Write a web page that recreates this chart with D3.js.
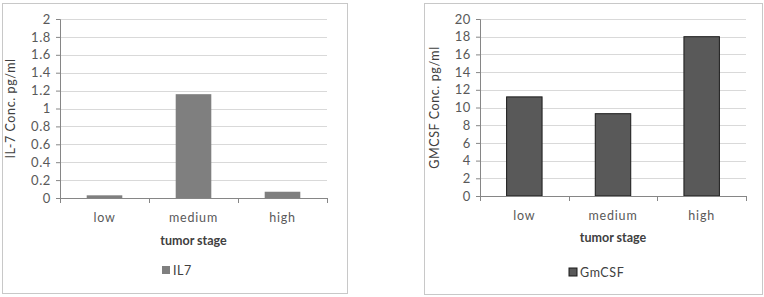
<!DOCTYPE html>
<html>
<head>
<meta charset="utf-8">
<script src="https://cdn.jsdelivr.net/npm/d3@7"></script>
<style>
  body { margin: 0; background: #fff; }
  svg text { font-family: Lato, "Open Sans", sans-serif; }
</style>
</head>
<body>
<div id="chart"></div>
<script>
const stages = ["low", "medium", "high"];
const il7Values = [0.03, 1.16, 0.07];
const gmcsfValues = [11.2, 9.3, 18.0];
const il7Ticks = [0, 0.2, 0.4, 0.6, 0.8, 1, 1.2, 1.4, 1.6, 1.8, 2];
const gmcsfTicks = [0, 2, 4, 6, 8, 10, 12, 14, 16, 18, 20];

const svg = d3.select("#chart")
    .append("svg")
    .attr("width", 764)
    .attr("height", 297);

function drawPanel(opts) {
    // outer chart frame
    svg.append("rect")
        .attr("x", opts.box[0] + 0.5)
        .attr("y", opts.box[1] + 0.5)
        .attr("width", opts.box[2])
        .attr("height", opts.box[3])
        .style("fill", "#fff")
        .style("stroke", "#c8c8c8");

    let g = svg.append("g")
        .attr("transform", `translate(${opts.left}, ${opts.top})`);

    let x = d3.scaleBand()
        .domain(stages)
        .range([0, opts.width])
        .paddingInner(0.6)
        .paddingOuter(0.3);

    let y = d3.scaleLinear()
        .domain([0, d3.max(opts.ticks)])
        .range([opts.height, 0]);

    // gridlines
    g.selectAll(".grid")
        .data(opts.ticks.slice(1))
        .enter()
        .append("line")
        .attr("x1", 0)
        .attr("x2", opts.width)
        .attr("y1", d => Math.round(y(d)) + 0.5)
        .attr("y2", d => Math.round(y(d)) + 0.5)
        .style("stroke", "#d9d9d9");

    let yAxis = d3.axisLeft(y)
        .tickValues(opts.ticks)
        .tickSize(4)
        .tickPadding(5)
        .tickFormat(d => d);

    let yg = g.append("g").call(yAxis);
    yg.select(".domain").style("stroke", "#868686");
    yg.selectAll(".tick line").style("stroke", "#868686");
    yg.selectAll(".tick text")
        .style("font-size", "13px")
        .style("letter-spacing", "0.6px")
        .style("fill", "#595959");

    // bars
    g.selectAll(".bar")
        .data(opts.values)
        .enter()
        .append("rect")
        .attr("x", (d, i) => x(stages[i]))
        .attr("y", d => y(d))
        .attr("width", x.bandwidth())
        .attr("height", d => opts.height - y(d))
        .style("fill", opts.color)
        .style("stroke", opts.stroke)
        .style("stroke-width", opts.stroke == "none" ? 0 : 1);

    // x axis with boundary ticks
    let xg = g.append("g")
        .attr("transform", `translate(0, ${opts.height})`);
    xg.append("line")
        .attr("x1", 0)
        .attr("x2", opts.width)
        .attr("y1", 0.5)
        .attr("y2", 0.5)
        .style("stroke", "#868686");
    xg.selectAll(".xtick")
        .data(d3.range(stages.length + 1))
        .enter()
        .append("line")
        .attr("x1", d => Math.round(d * opts.width / stages.length) + 0.5)
        .attr("x2", d => Math.round(d * opts.width / stages.length) + 0.5)
        .attr("y1", 0)
        .attr("y2", 5)
        .style("stroke", "#868686");
    xg.selectAll(".xlabel")
        .data(stages)
        .enter()
        .append("text")
        .attr("x", d => x(d) + x.bandwidth() / 2)
        .attr("y", opts.labelY)
        .attr("text-anchor", "middle")
        .style("font-size", "12.5px")
        .style("letter-spacing", "0.8px")
        .style("fill", "#595959")
        .text(d => d);

    // titles
    g.append("text")
        .attr("x", opts.width / 2)
        .attr("y", opts.height + opts.titleY)
        .attr("text-anchor", "middle")
        .style("font-size", "12.5px")
        .style("font-weight", "bold")
        .style("fill", "#404040")
        .text("tumor stage");

    g.append("text")
        .attr("transform", `translate(${opts.yTitleX}, ${opts.height / 2}) rotate(-90)`)
        .attr("text-anchor", "middle")
        .style("font-size", "12.5px")
        .style("letter-spacing", "0.6px")
        .style("fill", "#404040")
        .text(opts.yTitle);

    // legend
    let lg = svg.append("g")
        .attr("transform", `translate(${opts.legend[0]}, ${opts.legend[1]})`);
    lg.append("rect")
        .attr("x", 0)
        .attr("y", -4)
        .attr("width", 8)
        .attr("height", 8)
        .style("fill", opts.color)
        .style("stroke", opts.stroke);
    lg.append("text")
        .attr("x", 11)
        .attr("y", 4.5)
        .style("font-size", "12.5px")
        .style("letter-spacing", "0.6px")
        .style("fill", "#404040")
        .text(opts.name);
}

drawPanel({
    box: [2, 3, 345, 290],
    left: 60, top: 19, width: 267, height: 179,
    ticks: il7Ticks, values: il7Values,
    color: "#7f7f7f", stroke: "none",
    yTitle: "IL-7 Conc. pg/ml", yTitleX: -45,
    labelY: 24, titleY: 47,
    legend: [162, 270], name: "IL7"
});

drawPanel({
    box: [424, 3, 338, 291],
    left: 480, top: 19, width: 266, height: 177,
    ticks: gmcsfTicks, values: gmcsfValues,
    color: "#595959", stroke: "#1a1a1a",
    yTitle: "GMCSF Conc. pg/ml", yTitleX: -41,
    labelY: 24, titleY: 46,
    legend: [569, 272], name: "GmCSF"
});
</script>
</body>
</html>
